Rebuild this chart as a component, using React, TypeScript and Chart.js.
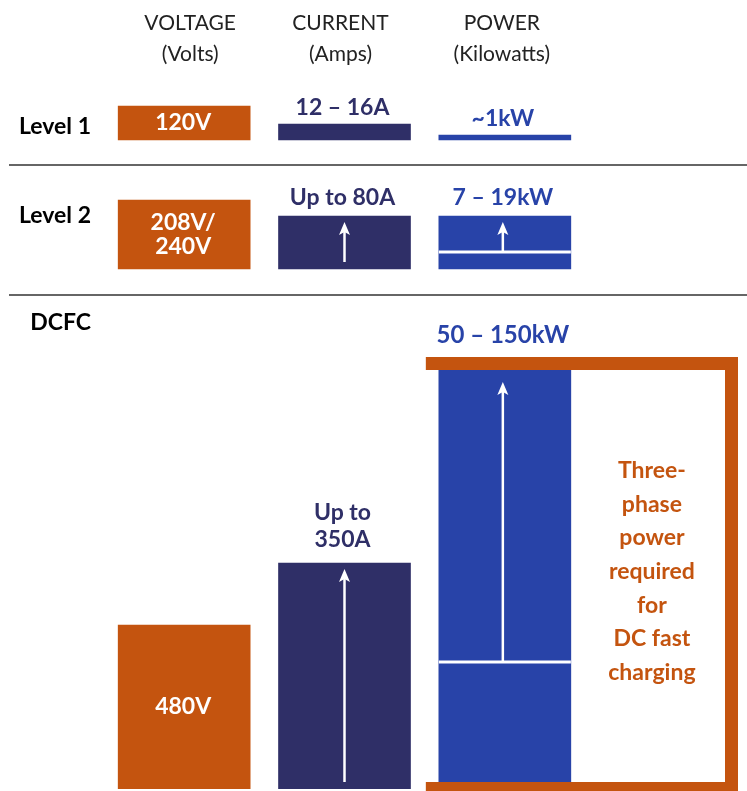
import { useEffect, useRef } from "react";
import { Chart, registerables } from "chart.js";

Chart.register(...registerables);

// ---- data ----
const columns = ["VOLTAGE", "CURRENT", "POWER"];
const columnUnits = ["(Volts)", "(Amps)", "(Kilowatts)"];
const levels = ["Level 1", "Level 2", "DCFC"];

// bar magnitudes (illustrative units as drawn)
const voltageHeights = [34, 69, 164];
const currentHeights = [16, 53, 226];
const powerHeights = [5, 53, 419];
// lower end of the power range (white marker line)
const powerLowMarks: (number | null)[] = [null, 17, 127];

const voltageLabels = [["120V"], ["208V/", "240V"], ["480V"]];
const currentLabels = [["12 – 16A"], ["Up to 80A"], ["Up to", "350A"]];
const powerLabels = [["~1kW"], ["7 – 19kW"], ["50 – 150kW"]];
const noteLines = ["Three-", "phase", "power", "required", "for", "DC fast", "charging"];

// per-row axis ranges
const rowMin = [-25, -26, 0];
const rowMax = [60, 104, 494];

// ---- styles ----
const ORANGE = "#C4540F";
const NAVY = "#2F2F67";
const BLUE = "#2843A8";
const colColors = [ORANGE, NAVY, BLUE];
const BOLD = "bold 23px Lato";
const headerShift = [6, -4, -3];
const rowLabelOffset = [54, 58, 35];
const labelGap = [9, 11, 16];

function drawArrow(ctx: CanvasRenderingContext2D, x: number, yBottom: number, yTip: number) {
  ctx.save();
  ctx.strokeStyle = "#ffffff";
  ctx.fillStyle = "#ffffff";
  ctx.lineWidth = 2.5;
  ctx.beginPath();
  ctx.moveTo(x, yBottom);
  ctx.lineTo(x, yTip + 8);
  ctx.stroke();
  ctx.beginPath();
  ctx.moveTo(x, yTip);
  ctx.lineTo(x - 5.5, yTip + 13);
  ctx.lineTo(x, yTip + 10);
  ctx.lineTo(x + 5.5, yTip + 13);
  ctx.closePath();
  ctx.fill();
  ctx.restore();
}

const overlayPlugin = {
  id: "overlay",
  afterDatasetsDraw(chart: any) {
    const ctx: CanvasRenderingContext2D = chart.ctx;
    const xs = chart.scales.x;
    const area = chart.chartArea;
    ctx.save();

    // column headers
    ctx.fillStyle = "#222222";
    ctx.font = "400 21px Lato";
    ctx.textAlign = "center";
    ctx.textBaseline = "alphabetic";
    columns.forEach((c, i) => {
      const cx = xs.getPixelForValue(i) + headerShift[i];
      ctx.fillText(c, cx, area.top - 50.5);
      ctx.fillText(columnUnits[i], cx, area.top - 19);
    });

    // separators
    ctx.strokeStyle = "#333333";
    ctx.lineWidth = 1.6;
    for (let r = 0; r < levels.length - 1; r++) {
      const y = chart.scales["y" + r].bottom;
      ctx.beginPath();
      ctx.moveTo(9, y);
      ctx.lineTo(chart.width, y);
      ctx.stroke();
    }

    // row labels
    ctx.fillStyle = "#000000";
    ctx.font = BOLD;
    ctx.textAlign = "right";
    levels.forEach((lv, r) => {
      const s = chart.scales["y" + r];
      ctx.fillText(lv, area.left - 13, s.top + rowLabelOffset[r]);
    });

    levels.forEach((_, r) => {
      const meta = chart.getDatasetMeta(r);
      const ys = chart.scales["y" + r];
      const bars = meta.data.map((el: any) => el.getProps(["x", "y", "base", "width"], true));

      // voltage label inside
      const vb = bars[0];
      const vl = voltageLabels[r];
      const mid = (vb.y + vb.base) / 2;
      ctx.fillStyle = "#ffffff";
      ctx.font = BOLD;
      ctx.textAlign = "center";
      vl.forEach((t, i) => {
        ctx.fillText(t, vb.x - 1, mid - ((vl.length - 1) * 24) / 2 + i * 24 + 7);
      });

      // current label above + arrow
      const cb = bars[1];
      ctx.fillStyle = NAVY;
      const cl = currentLabels[r];
      cl.forEach((t, i) => {
        ctx.fillText(t, cb.x - 2, cb.y - labelGap[r] - (cl.length - 1 - i) * 27);
      });
      if (r > 0) drawArrow(ctx, cb.x, cb.base - 7, cb.y + 6);

      // power
      const pb = bars[2];
      const framed = r === levels.length - 1;
      if (framed) {
        const left = pb.x - pb.width / 2 - 13;
        const top = pb.y - 13;
        const right = chart.width - 9;
        const bottomY = pb.base - 7;
        ctx.fillStyle = ORANGE;
        ctx.fillRect(left, top, right - left, 13);
        ctx.fillRect(right - 13, top, 13, chart.height - top);
        ctx.fillRect(left, bottomY, right - left, chart.height - bottomY);
        // note text
        const nx = (pb.x + pb.width / 2 + right - 13) / 2 + 4;
        const ncenter = (pb.y + bottomY) / 2;
        ctx.font = BOLD;
        noteLines.forEach((t, i) => {
          ctx.fillText(t, nx, ncenter + (i - 3) * 33.6 + 3);
        });
      }
      ctx.fillStyle = BLUE;
      ctx.font = framed ? "bold 24px Lato" : BOLD;
      const pl = powerLabels[r];
      const ptop = framed ? pb.y - 13 : pb.y;
      pl.forEach((t, i) => {
        ctx.fillText(t, pb.x - 2, ptop - (framed ? 14 : labelGap[r]) - (pl.length - 1 - i) * 27);
      });
      const low = powerLowMarks[r];
      if (low != null) {
        const ly = ys.getPixelForValue(low);
        ctx.fillStyle = "#ffffff";
        ctx.fillRect(pb.x - pb.width / 2, ly - 1.5, pb.width, 3);
        drawArrow(ctx, pb.x - 2, ly, pb.y + (framed ? 12 : 6));
      }
    });

    ctx.restore();
  },
};

export default function App() {
  const ref = useRef<HTMLCanvasElement | null>(null);
  useEffect(() => {
    if (!ref.current) return;
    const scales: any = {
      x: { type: "category", labels: columns, display: false, offset: true, grid: { display: false } },
    };
    levels.forEach((_, r) => {
      scales["y" + r] = {
        type: "linear",
        position: "left",
        stack: "rows",
        stackWeight: rowMax[r] - rowMin[r],
        weight: levels.length - r,
        min: rowMin[r],
        max: rowMax[r],
        display: false,
        grid: { display: false },
      };
    });
    const chart = new Chart(ref.current, {
      type: "bar",
      data: {
        labels: columns,
        datasets: levels.map((lv, r) => ({
          label: lv,
          data: [voltageHeights[r], currentHeights[r], powerHeights[r]],
          yAxisID: "y" + r,
          backgroundColor: colColors,
          borderWidth: 0,
          grouped: false,
          barThickness: 132,
        })) as any,
      },
      options: {
        responsive: false,
        animation: false,
        layout: { autoPadding: false, padding: { top: 80, left: 104, right: 162, bottom: 2 } },
        plugins: { legend: { display: false }, tooltip: { enabled: false } },
        scales,
      } as any,
      plugins: [overlayPlugin],
    });
    return () => chart.destroy();
  }, []);
  return (
    <div style={{ position: "absolute", left: 0, top: 0, width: 747, height: 791, background: "#fff" }}>
      <canvas ref={ref} width={747} height={791} />
    </div>
  );
}
